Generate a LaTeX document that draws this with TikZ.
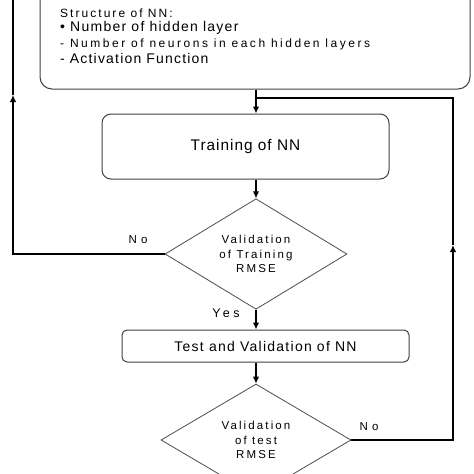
\documentclass[tikz,border=0pt]{standalone}
\usepackage{fontspec}
\setmainfont{Liberation Sans}
\usetikzlibrary{shapes.geometric,arrows.meta}
\newcommand\fs[3]{\fontsize{#1}{#2}\selectfont\addfontfeatures{LetterSpace=#3}}
\begin{document}
\begin{tikzpicture}[x=1pt,y=-1pt,
 conn/.style={line width=1.3pt, black},
 arr/.style={conn,-{Latex[length=7pt,width=6.5pt]}},
 rbox/.style={draw=black!75, line width=1pt, rounded corners=10pt, inner sep=0pt},
 dec/.style={diamond, draw=black!70, line width=0.8pt, inner sep=0pt, align=center, font=\fs{11.5}{14.5}{18.5}},
 lbl/.style={inner sep=0pt}
]
\useasboundingbox (0,0) rectangle (474,474);
% boxes
\node[rbox, rounded corners=12pt, minimum width=430pt, minimum height=101pt] (struct) at (255,38.5) {};
\node[lbl, anchor=base west, font=\fs{12}{12}{17}] (s1) at (60,17) {Structure of NN:};
\node[lbl, anchor=base west, font=\fs{14}{14}{9}] (s2) at (60,31) {• Number of hidden layer};
\node[lbl, anchor=base west, font=\fs{12}{12}{21}] (s3) at (60,47) {- Number of neurons in each hidden layers};
\node[lbl, anchor=base west, font=\fs{14}{14}{8.5}] (s4) at (60,63) {- Activation Function};
\node[rbox, rounded corners=9pt, minimum width=287pt, minimum height=65pt, font=\fs{15.4}{15.4}{6.4}] (train) at (245.5,146.5) {Training of NN};
\node[dec, minimum width=182pt, minimum height=108pt] (val1) at (256,254) {Validation\\of Training\\RMSE};
\node[rbox, rounded corners=5pt, minimum width=287pt, minimum height=32pt, font=\fs{14}{14}{9}] (test) at (265.5,346) {Test and Validation of NN};
\node[dec, minimum width=190pt, minimum height=112pt] (val2) at (256,440) {Validation\\of test\\RMSE};
% labels
\node[lbl, font=\fs{11.5}{11.5}{36}] (no1) at (138,240) {No};
\node[lbl, font=\fs{12.5}{12.5}{28}] (yes) at (226,313) {Yes};
\node[lbl, font=\fs{11.5}{11.5}{36}] (no2) at (369,427) {No};
% coordinates for loops
\coordinate (lt) at (13,-5);
\coordinate (la) at (13,95);
\coordinate (ra) at (453,245);
\coordinate (j) at (256,98);
% connectors
\draw[arr] (val1.north |- struct.south) -- (val1.north |- train.north);
\draw[arr] (val1.north |- train.south) -- (val1.north);
\draw[arr] (val1.south) -- (val1.south |- test.north);
\draw[arr] (val2.north |- test.south) -- (val2.north);
\draw[arr] (val1.west) -| (la);
\draw[conn] (la) -- (lt);
\draw[arr] (val2.east) -| (ra);
\draw[conn] (ra) |- (j);
\end{tikzpicture}
\end{document}
